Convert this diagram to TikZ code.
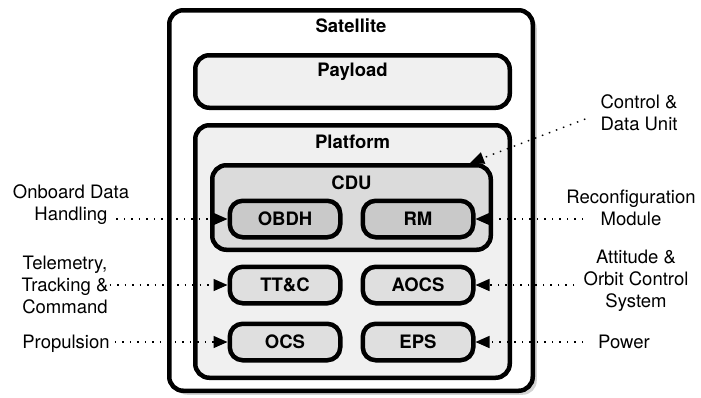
\documentclass[tikz,border=0pt]{standalone}
\usepackage{fontspec}
\setmainfont{TeX Gyre Heros}
\usetikzlibrary{arrows.meta,positioning,calc,shadows}
\newcommand{\labelsize}{\fontsize{18.5}{22}\selectfont}
\tikzset{
  framebox/.style={draw=black,line width=4.5pt,rounded corners=14pt,inner sep=0pt},
  unitbox/.style={draw=black,line width=4.5pt,rounded corners=13pt,fill=gray!25,
    minimum width=110.5pt,minimum height=36.5pt,font=\labelsize\bfseries,inner sep=0pt},
  boxtitle/.style={font=\labelsize\bfseries},
  sidelabel/.style={align=center,inner sep=1pt,font=\labelsize},
  pointer/.style={dash pattern=on 1.5pt off 6pt,line width=1.4pt,
    -{Triangle[length=14pt,width=12pt]}}
}

\begin{document}
\begin{tikzpicture}[x=1pt,y=-1pt]
  \useasboundingbox (0,0) rectangle (701,397);

  % nested frames
  \node[framebox,fill=white,minimum width=363.5pt,minimum height=380.5pt,
    drop shadow={shadow xshift=4pt,shadow yshift=-4pt,opacity=0.35}] (sat) at (351,200.5) {};
  \node[boxtitle] (satname) at (351,26) {Satellite};
  \node[framebox,fill=gray!12,minimum width=314.5pt,minimum height=52.5pt] (payload) at (352.5,81.5) {};
  \node[boxtitle] (payloadname) at (352.5,72) {Payload};
  \node[framebox,fill=gray!12,minimum width=314.5pt,minimum height=252.5pt] (platform) at (352.5,251.5) {};
  \node[boxtitle] (platformname) at (352.5,142) {Platform};
  \node[framebox,fill=gray!28,minimum width=278.5pt,minimum height=84.5pt] (cdu) at (351.5,207.5) {};
  \node[boxtitle] (cduname) at (351.5,183) {CDU};

  % subsystems
  \node[unitbox,fill=gray!42] (obdh) at (285,219) {OBDH};
  \node[unitbox,fill=gray!42] (rm) at (418,219) {RM};
  \node[unitbox] (ttc) at (285,285) {TT\&C};
  \node[unitbox] (aocs) at (418,285) {AOCS};
  \node[unitbox] (ocs) at (285,342) {OCS};
  \node[unitbox] (eps) at (418,342) {EPS};

  % left side labels
  \node[sidelabel] (odh) at (71,205) {Onboard Data\\Handling};
  \node[sidelabel] (telem) at (65,285) {Telemetry,\\Tracking \&\\Command};
  \node[sidelabel] (prop) at (66,344) {Propulsion};
  \draw[pointer] ([xshift=-14pt]odh.east |- obdh.west) -- (obdh.west);
  \draw[pointer] (telem.east |- ttc.west) -- (ttc.west);
  \draw[pointer] ([xshift=4pt]prop.east |- ocs.west) -- (ocs.west);

  % right side labels
  \node[sidelabel] (ctrl) at (639,113) {Control \&\\Data Unit};
  \node[sidelabel] (reconf) at (631,208) {Reconfiguration\\Module};
  \node[sidelabel] (att) at (636,281) {Attitude \&\\Orbit Control\\System};
  \node[sidelabel] (power) at (624,342) {Power};
  \draw[pointer] ([xshift=-14pt,yshift=-6pt]ctrl.west) -- ([xshift=-23pt]cdu.north east);
  \draw[pointer] ([xshift=18pt]reconf.west |- rm.east) -- (rm.east);
  \draw[pointer] ([xshift=-8pt]att.west |- aocs.east) -- (aocs.east);
  \draw[pointer] ([xshift=-14pt]power.west |- eps.east) -- (eps.east);
\end{tikzpicture}
\end{document}
